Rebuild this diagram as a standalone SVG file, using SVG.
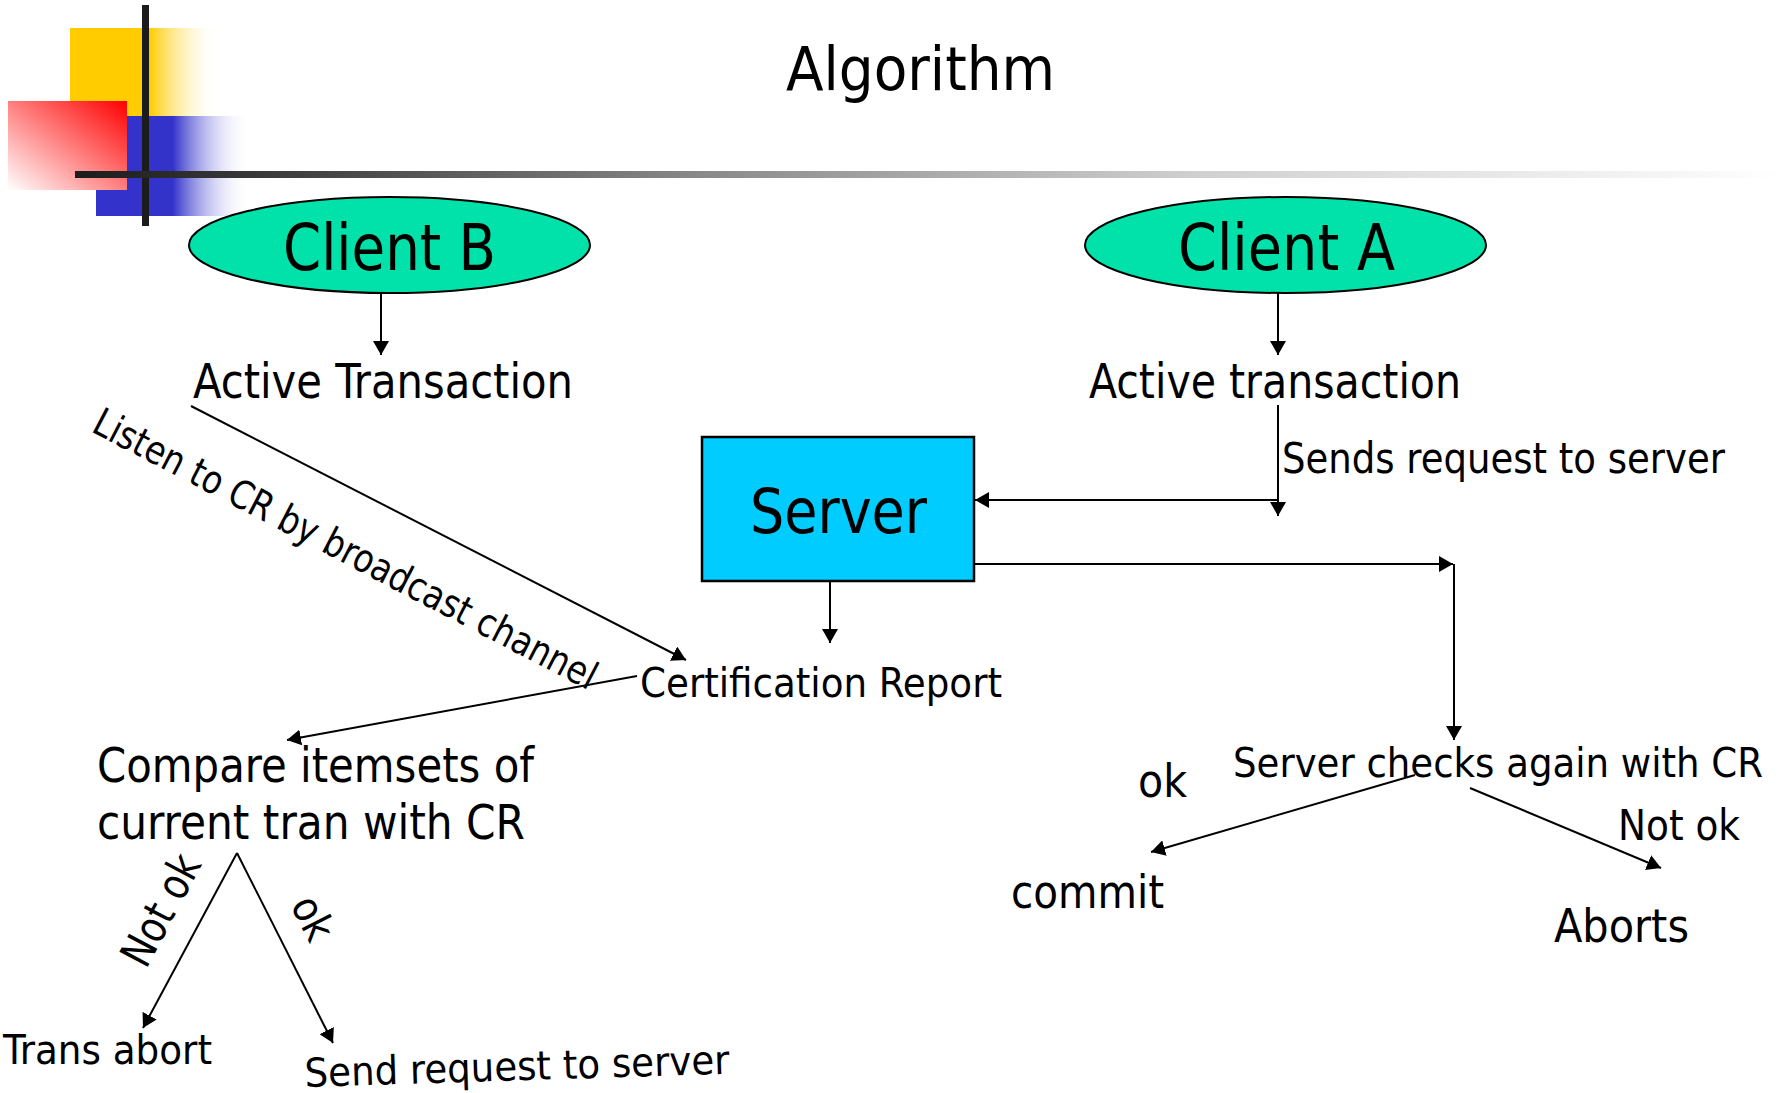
<svg xmlns="http://www.w3.org/2000/svg" width="1783" height="1093" viewBox="0 0 1783 1093">
<style>
  text { font-family: "DejaVu Sans Condensed", "DejaVu Sans", "Liberation Sans", sans-serif; fill: #000; }
  .conn { stroke: #000; stroke-width: 2; fill: none; }
  .arr { marker-end: url(#ah); }
  .node-ell { fill: #00E2A9; stroke: #000; stroke-width: 2; }
  .node-box { fill: #00CCFF; stroke: #000; stroke-width: 2.5; }
</style>
<defs>
  <marker id="ah" markerUnits="userSpaceOnUse" markerWidth="16" markerHeight="16" refX="14" refY="8" orient="auto">
    <path d="M0,0 L14,8 L0,16 z" fill="#000"/>
  </marker>
  <linearGradient id="gYellow" x1="0" y1="0" x2="1" y2="0">
    <stop offset="0" stop-color="#FFCC00"/>
    <stop offset="0.53" stop-color="#FFCC00"/>
    <stop offset="1" stop-color="#FFFFFF" stop-opacity="0"/>
  </linearGradient>
  <linearGradient id="gBlue" x1="0" y1="0" x2="1" y2="0">
    <stop offset="0" stop-color="#3333CC"/>
    <stop offset="0.5" stop-color="#3333CC"/>
    <stop offset="1" stop-color="#FFFFFF" stop-opacity="0"/>
  </linearGradient>
  <linearGradient id="gRed" x1="1" y1="0" x2="0" y2="1">
    <stop offset="0" stop-color="#FF0000"/>
    <stop offset="1" stop-color="#FFFFFF"/>
  </linearGradient>
  <linearGradient id="gRule" gradientUnits="userSpaceOnUse" x1="75" y1="0" x2="1783" y2="0">
    <stop offset="0" stop-color="#1C1C1C"/>
    <stop offset="0.13" stop-color="#404040"/>
    <stop offset="0.37" stop-color="#8A8A8A"/>
    <stop offset="0.66" stop-color="#D0D0D0"/>
    <stop offset="1" stop-color="#FFFFFF"/>
  </linearGradient>
</defs>

<g id="decoration">
  <rect x="70" y="28" width="150" height="88" fill="url(#gYellow)"/>
  <rect x="96" y="116" width="154" height="100" fill="url(#gBlue)"/>
  <rect x="8" y="101" width="119" height="89" fill="url(#gRed)"/>
  <rect x="142" y="5" width="7" height="221" fill="#1C1C1C"/>
  <rect x="75" y="171" width="1708" height="7" fill="url(#gRule)"/>
</g>

<text id="title" x="786" y="90" font-size="60" textLength="269" lengthAdjust="spacingAndGlyphs">Algorithm</text>

<g id="connectors">
  <path class="conn arr" d="M381,293 L381,355"/>
  <path class="conn arr" d="M1278,293 L1278,355"/>
  <path class="conn arr" d="M1278,405 L1278,516"/>
  <path class="conn arr" d="M1278,500 L975,500"/>
  <path class="conn arr" d="M830,581 L830,643"/>
  <path class="conn arr" d="M975,564 L1453,564"/>
  <path class="conn arr" d="M1454,564 L1454,740"/>
  <path class="conn arr" d="M191,406 L686,660"/>
  <path class="conn arr" d="M637,676 L287,740"/>
  <path class="conn arr" d="M237,853 L143,1028"/>
  <path class="conn arr" d="M237,853 L333,1043"/>
  <path class="conn arr" d="M1415,775 L1151,852"/>
  <path class="conn arr" d="M1470,788 L1661,868"/>
</g>

<g id="clientB">
  <ellipse class="node-ell" cx="389.5" cy="245" rx="200.5" ry="48"/>
  <text x="283" y="270" font-size="64" textLength="213" lengthAdjust="spacingAndGlyphs">Client B</text>
</g>
<g id="clientA">
  <ellipse class="node-ell" cx="1285.5" cy="245" rx="200.5" ry="48"/>
  <text x="1178" y="270" font-size="64" textLength="217" lengthAdjust="spacingAndGlyphs">Client A</text>
</g>
<g id="activeB">
  <text x="193" y="398" font-size="48" textLength="380" lengthAdjust="spacingAndGlyphs">Active Transaction</text>
</g>
<g id="activeA">
  <text x="1089" y="398" font-size="48" textLength="372" lengthAdjust="spacingAndGlyphs">Active transaction</text>
</g>
<g id="server">
  <rect class="node-box" x="702" y="437" width="272" height="144"/>
  <text x="750" y="533" font-size="62" textLength="177" lengthAdjust="spacingAndGlyphs">Server</text>
</g>
<g id="certReport">
  <text x="640" y="697" font-size="40" textLength="362" lengthAdjust="spacingAndGlyphs">Certification Report</text>
</g>
<g id="compare">
  <text x="97" y="782" font-size="48" textLength="437" lengthAdjust="spacingAndGlyphs">Compare itemsets of</text>
  <text x="97" y="839" font-size="48" textLength="428" lengthAdjust="spacingAndGlyphs">current tran with CR</text>
</g>
<g id="transAbort">
  <text x="3" y="1064" font-size="40" textLength="209" lengthAdjust="spacingAndGlyphs">Trans abort</text>
</g>
<g id="sendRequest">
  <text x="305" y="1087" font-size="40" textLength="425" lengthAdjust="spacingAndGlyphs" transform="rotate(-1.8 305 1087)">Send request to server</text>
</g>
<g id="serverChecks">
  <text x="1233" y="777" font-size="41" textLength="530" lengthAdjust="spacingAndGlyphs">Server checks again with CR</text>
</g>
<g id="commit">
  <text x="1011" y="908" font-size="46" textLength="153" lengthAdjust="spacingAndGlyphs">commit</text>
</g>
<g id="aborts">
  <text x="1554" y="942" font-size="46" textLength="135" lengthAdjust="spacingAndGlyphs">Aborts</text>
</g>

<g id="labels">
  <text x="1282" y="473" font-size="42" textLength="443" lengthAdjust="spacingAndGlyphs">Sends request to server</text>
  <text x="90" y="431" font-size="39" textLength="562" lengthAdjust="spacingAndGlyphs" transform="rotate(27.5 90 431)">Listen to CR by broadcast channel</text>
  <text x="146" y="970" font-size="44" textLength="120" lengthAdjust="spacingAndGlyphs" transform="rotate(-62 146 970)">Not ok</text>
  <text x="290" y="905" font-size="42" textLength="44" lengthAdjust="spacingAndGlyphs" transform="rotate(63 290 905)">ok</text>
  <text x="1138" y="797" font-size="46" textLength="49" lengthAdjust="spacingAndGlyphs">ok</text>
  <text x="1618" y="840" font-size="42" textLength="122" lengthAdjust="spacingAndGlyphs">Not ok</text>
</g>
</svg>
